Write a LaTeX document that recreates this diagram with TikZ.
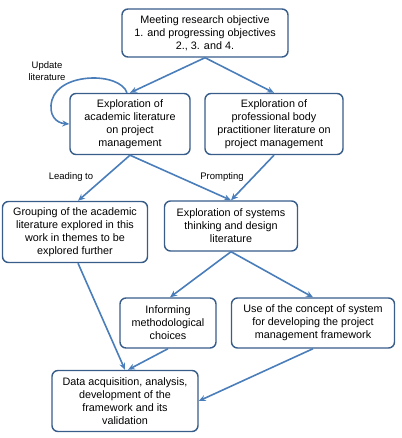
\documentclass[tikz,border=0pt]{standalone}
\usepackage{fontspec}
\setmainfont{Liberation Sans}
\usetikzlibrary{arrows.meta}

\definecolor{boxline}{HTML}{385D8A}
\definecolor{flow}{HTML}{4A7EBB}

\tikzset{
  stage/.style={draw=boxline, line width=1.4pt, rounded corners=6pt, fill=white,
    align=center, inner sep=2pt, font=\fontsize{10.8}{13}\selectfont},
  link/.style={draw=flow, line width=1.6pt, -{Stealth[length=7pt,width=6pt]}},
  tag/.style={font=\fontsize{9.5}{11.5}\selectfont, align=center}
}

\begin{document}
\begin{tikzpicture}[x=1pt,y=-1pt]
\useasboundingbox (0,0) rectangle (401,438);

\node[stage, minimum width=166pt, minimum height=48pt] (goal) at (205,33)
  {Meeting research objective\\1. and progressing objectives\\2., 3. and 4.};
\node[stage, minimum width=120pt, minimum height=61pt] (acad) at (130,124)
  {Exploration of\\academic literature\\on project\\management};
\node[stage, minimum width=138pt, minimum height=61pt] (prof) at (274,124)
  {Exploration of\\professional body\\practitioner literature on\\project management};
\node[stage, minimum width=145pt, minimum height=61pt] (group) at (75,232)
  {Grouping of the academic\\literature explored in this\\work in themes to be\\explored further};
\node[stage, minimum width=133pt, minimum height=50pt] (syst) at (231,226)
  {Exploration of systems\\thinking and design\\literature};
\node[stage, minimum width=96pt, minimum height=50pt] (inform) at (168,323)
  {Informing\\methodological\\choices};
\node[stage, minimum width=163pt, minimum height=50pt] (concept) at (313,323)
  {Use of the concept of system\\for developing the project\\management framework};
\node[stage, minimum width=146pt, minimum height=61pt] (data) at (125,401)
  {Data acquisition, analysis,\\development of the\\framework and its\\validation};

% labels on the arrows
\node[tag] (upd) at (47,71) {Update\\literature};
\node[tag] (lead) at (71,177) {Leading to};
\node[tag] (prompt) at (222,177) {Prompting};

% arrows
\draw[link] (goal.south) -- (acad.north);
\draw[link] (goal.south) -- (prof.north);
\draw[link] ([xshift=-3pt]acad.north) .. controls (120,72) and (60,72) .. (52,100)
  .. controls (48,115) and (56,123) .. (acad.west);
\draw[link] (acad.south) -- ([xshift=3pt]group.north);
\draw[link] (acad.south) -- (syst.north);
\draw[link] (prof.south) -- (syst.north);
\draw[link] (syst.south) -- ([xshift=2pt]inform.north);
\draw[link] (syst.south) -- (concept.north);
\draw[link] ([xshift=3pt]group.south) -- (data.north);
\draw[link] (inform.south) -- ([xshift=3pt]data.north);
\draw[link] (concept.south) -- (data.east);
\end{tikzpicture}
\end{document}
